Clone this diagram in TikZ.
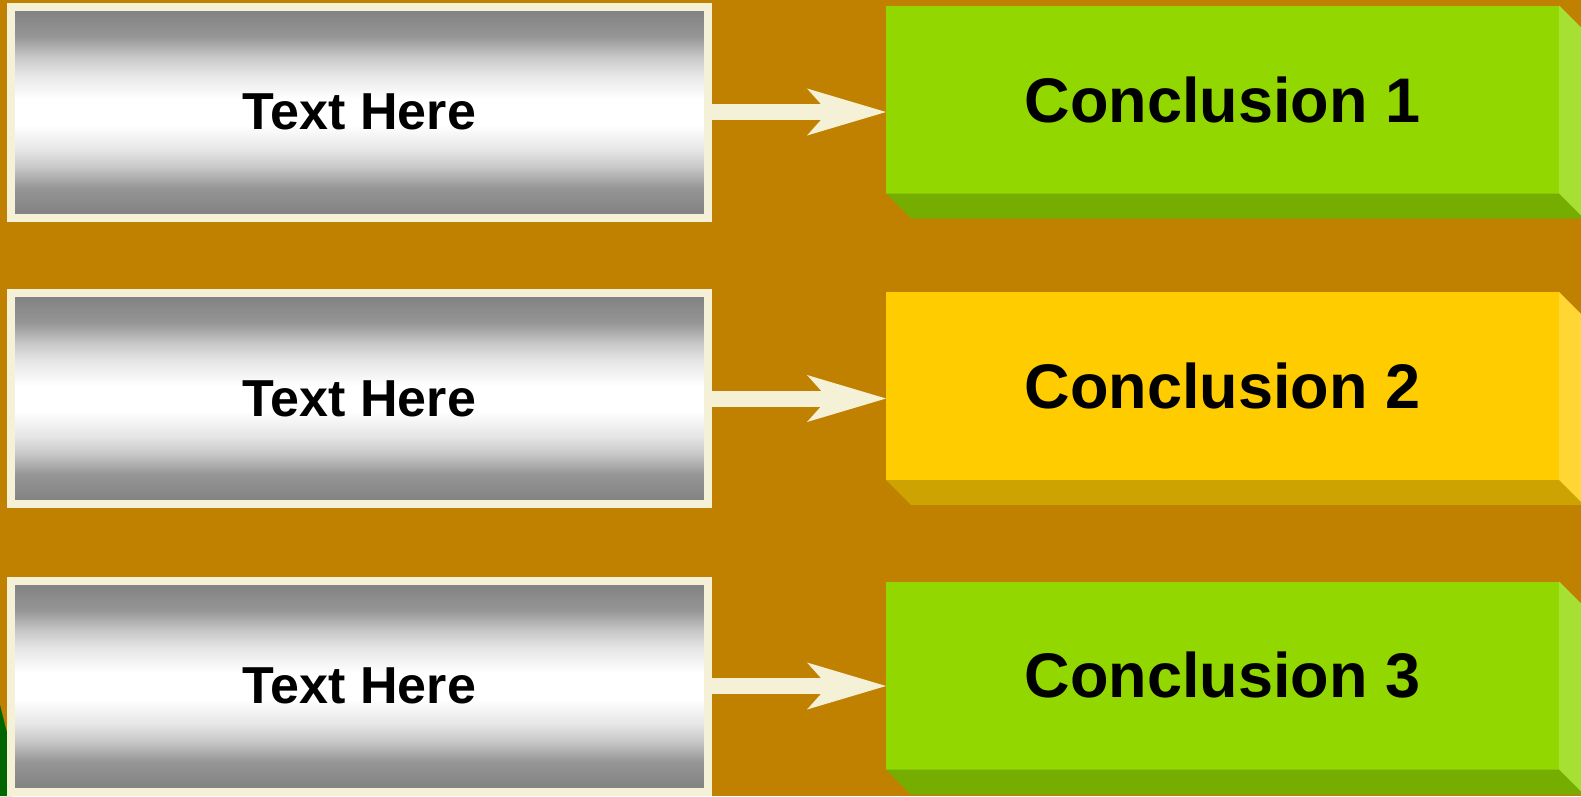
\documentclass[tikz,border=0pt]{standalone}
\usepackage{fontspec}
\setmainfont{Liberation Sans}
\usetikzlibrary{arrows.meta}
\definecolor{bgbrown}{RGB}{192,128,0}
\definecolor{cream}{RGB}{245,241,214}
\definecolor{leafgreen}{RGB}{146,216,0}
\definecolor{leafdark}{RGB}{117,173,0}
\definecolor{leaflight}{RGB}{166,224,51}
\definecolor{sunyellow}{RGB}{255,204,0}
\definecolor{sundark}{RGB}{204,163,0}
\definecolor{sunlight}{RGB}{255,214,51}
\definecolor{deepgreen}{RGB}{0,102,0}
\pgfdeclareverticalshading{metal}{100bp}{color(0bp)=(gray); color(25bp)=(gray);
  color(32bp)=(gray!83!white); color(37bp)=(gray!43!white); color(41bp)=(gray!20!white);
  color(47bp)=(white); color(53bp)=(white); color(59bp)=(gray!20!white);
  color(63bp)=(gray!43!white); color(68bp)=(gray!83!white); color(75bp)=(gray); color(100bp)=(gray)}
\tikzset{
  textbox/.style={draw=cream,line width=8pt,minimum width=697pt,minimum height=211pt,
    shading=metal,font=\fontsize{52}{60}\selectfont\bfseries},
  conclbox/.style={minimum width=673pt,minimum height=188pt,inner sep=0pt,outer sep=0pt,
    font=\fontsize{63}{70}\selectfont\bfseries},
  link/.style={cream,line width=16pt,
    -{Stealth[length=79pt,width=47pt,inset=21pt,line width=0pt]}}
}
\begin{document}
\begin{tikzpicture}[x=1pt,y=-1pt]
    \useasboundingbox (0,0) rectangle (1581,796);
    \clip (0,0) rectangle (1581,796);
    \fill[bgbrown] (0,0) rectangle (1581,796);
    \fill[deepgreen] (0,705) -- (12,752) -- (12,796) -- (0,796) -- cycle;
    \node[textbox] (t1) at (359.5,112) {Text Here};
    \node[textbox] (t2) at (359.5,398.5) {Text Here};
    \node[textbox] (t3) at (359.5,686) {Text Here};
    \node[conclbox,fill=leafgreen] (c1) at (1222.5,99.5) {Conclusion 1};
    \node[conclbox,fill=sunyellow] (c2) at (1222.5,386) {Conclusion 2};
    \node[conclbox,fill=leafgreen] (c3) at (1222.5,675.5) {Conclusion 3};
    \fill[leafdark] (c1.south west) -- (c1.south east) -- ++(25,25) -- ++(-673,0) -- cycle;
    \fill[leaflight] (c1.north east) -- ++(25,25) -- ++(0,188) -- (c1.south east) -- cycle;
    \fill[sundark] (c2.south west) -- (c2.south east) -- ++(25,25) -- ++(-673,0) -- cycle;
    \fill[sunlight] (c2.north east) -- ++(25,25) -- ++(0,188) -- (c2.south east) -- cycle;
    \fill[leafdark] (c3.south west) -- (c3.south east) -- ++(25,25) -- ++(-673,0) -- cycle;
    \fill[leaflight] (c3.north east) -- ++(25,25) -- ++(0,188) -- (c3.south east) -- cycle;
    \draw[link] (t1.east) -- (t1.east -| c1.west);
    \draw[link] (t2.east) -- (t2.east -| c2.west);
    \draw[link] (t3.east) -- (t3.east -| c3.west);
\end{tikzpicture}
\end{document}
